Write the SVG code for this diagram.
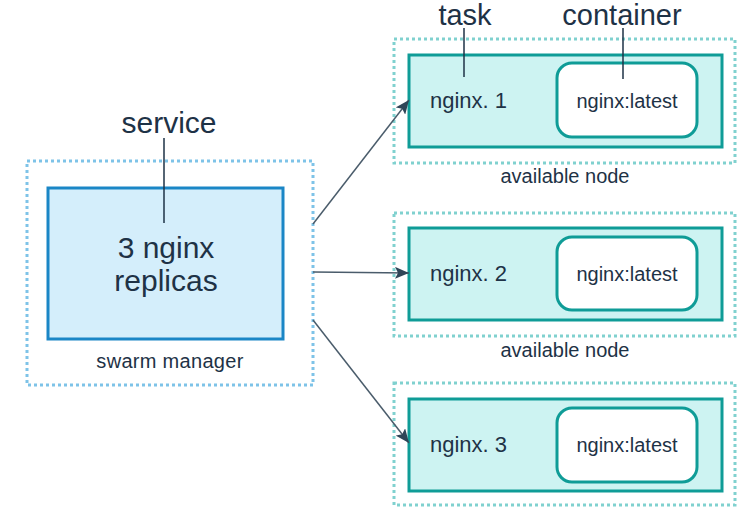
<svg xmlns="http://www.w3.org/2000/svg" width="743" height="510" viewBox="0 0 743 510">
<defs>
<marker id="ah" viewBox="0 0 14 12" refX="14" refY="6" markerWidth="14" markerHeight="12" markerUnits="userSpaceOnUse" orient="auto">
<path d="M0,0 L14,6 L0,12 L3,6 Z" fill="#2f4557"/>
</marker>
<style>
text{font-family:"Liberation Sans",Arial,sans-serif;fill:#1e3246}
.big{font-size:30px}
.top{font-size:29px}
.mid{font-size:22px}
.sm{font-size:20px}
.ct{font-size:20px}
.dotb{fill:none;stroke:#7ec3e8;stroke-width:3;stroke-dasharray:3 3}
.dott{fill:none;stroke:#80d1cf;stroke-width:3;stroke-dasharray:3 3}
.task{fill:#cdf3f2;stroke:#0f9c97;stroke-width:3}
.cont{fill:#ffffff;stroke:#0f9c97;stroke-width:3}
.lead{stroke:#1e3246;stroke-width:1.5;fill:none}
.conn{stroke:#4a5c6b;stroke-width:1.5;fill:none;marker-end:url(#ah)}
</style>
</defs>
<rect width="743" height="510" fill="#ffffff"/>

<g id="manager">
<rect class="dotb" x="27" y="161" width="286" height="224"/>
<rect x="48" y="188" width="235" height="151" fill="#d4eefb" stroke="#1a86c6" stroke-width="3"/>
<text class="big" x="166" y="258" text-anchor="middle">3 nginx</text>
<text class="big" x="166" y="291" text-anchor="middle">replicas</text>
<text class="sm" x="170" y="368" text-anchor="middle" letter-spacing="0.3">swarm  manager</text>
<text class="big" x="169" y="133" text-anchor="middle">service</text>
<line class="lead" x1="164" y1="138" x2="164" y2="223"/>
</g>

<g id="node1">
<rect class="dott" x="394" y="39" width="341" height="124"/>
<rect class="task" x="409" y="55" width="313" height="92"/>
<rect class="cont" x="557" y="63" width="140" height="74" rx="15"/>
<text class="mid" x="430" y="108">nginx. 1</text>
<text class="ct" x="627" y="108" text-anchor="middle">nginx:latest</text>
<text class="sm" x="565" y="183" text-anchor="middle">available node</text>
<text class="top" x="465" y="25" text-anchor="middle">task</text>
<text class="top" x="622" y="25" text-anchor="middle">container</text>
<line class="lead" x1="464" y1="28" x2="464" y2="77"/>
<line class="lead" x1="623" y1="28" x2="623" y2="79"/>
</g>

<g id="node2">
<rect class="dott" x="394" y="213" width="341" height="123"/>
<rect class="task" x="409" y="228" width="313" height="92"/>
<rect class="cont" x="557" y="237" width="140" height="73" rx="15"/>
<text class="mid" x="430" y="281">nginx. 2</text>
<text class="ct" x="627" y="281" text-anchor="middle">nginx:latest</text>
<text class="sm" x="565" y="357" text-anchor="middle">available node</text>
</g>

<g id="node3">
<rect class="dott" x="394" y="383" width="341" height="122"/>
<rect class="task" x="409" y="399" width="313" height="92"/>
<rect class="cont" x="557" y="408" width="140" height="74" rx="15"/>
<text class="mid" x="430" y="452">nginx. 3</text>
<text class="ct" x="627" y="452" text-anchor="middle">nginx:latest</text>
</g>

<g id="connectors">
<line class="conn" x1="313" y1="224" x2="409" y2="100"/>
<line class="conn" x1="313" y1="272" x2="409" y2="273"/>
<line class="conn" x1="313" y1="320" x2="409" y2="443"/>
</g>
</svg>
